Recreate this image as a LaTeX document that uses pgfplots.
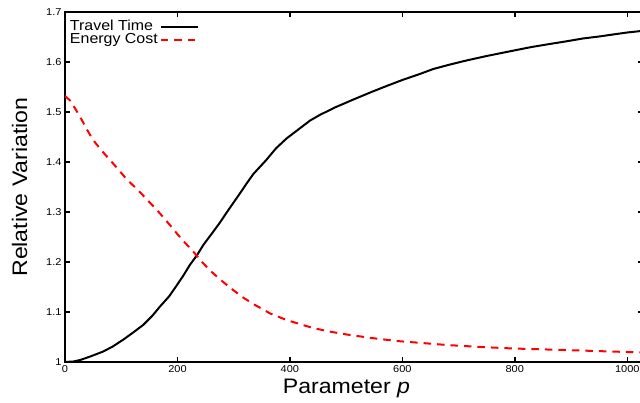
\documentclass[border=0pt]{standalone}
\usepackage{fontspec}
\setmainfont{Liberation Sans}[FakeStretch=1.1]
\usepackage{pgfplots}
\pgfplotsset{compat=1.18}
\usepackage{pgfplotstable}
\pgfplotstableread{
x y
0 1.000
15 1.001
27 1.004
45 1.011
68 1.021
85 1.031
104 1.045
120 1.058
139 1.074
155 1.092
169 1.111
185 1.131
198 1.152
210 1.172
222 1.194
235 1.214
246 1.234
260 1.255
275 1.278
290 1.303
311 1.337
323 1.357
335 1.376
358 1.404
375 1.427
394 1.447
415 1.465
436 1.483
453 1.494
480 1.509
513 1.525
545 1.540
572 1.552
600 1.564
631 1.576
655 1.586
685 1.595
714 1.603
750 1.612
803 1.624
830 1.630
862 1.636
890 1.641
921 1.647
950 1.651
981 1.656
1000 1.659
1025 1.662
}\travel
\pgfplotstableread{
x y
0 1.532
10 1.522
27 1.490
40 1.463
50 1.444
65 1.423
80 1.404
95 1.385
110 1.365
125 1.349
139 1.333
155 1.314
169 1.297
185 1.276
199 1.257
213 1.239
228 1.221
243 1.201
258 1.183
278 1.163
299 1.144
318 1.128
338 1.114
365 1.097
394 1.084
420 1.075
441 1.068
470 1.061
501 1.055
545 1.048
590 1.042
635 1.038
679 1.034
740 1.030
797 1.027
857 1.025
916 1.023
970 1.021
1000 1.020
1025 1.019
}\energy
\begin{document}
\begin{tikzpicture}
\begin{axis}[
  scale only axis,
  width=578pt, height=350pt,
  xmin=0, xmax=1028, ymin=1, ymax=1.7,
  xtick={0,200,400,600,800,1000},
  ytick={1,1.1,1.2,1.3,1.4,1.5,1.6,1.7},
  minor tick num=0,
  tick align=inside,
  tick pos=both,
  major tick length=5pt,
  axis line style={line width=1.8pt},
  every tick/.style={line width=1.5pt, black},
  /pgf/number format/assume math mode=true,
  /pgf/number format/1000 sep={},
  tick label style={font=\fontsize{10}{12}\selectfont},
  xlabel={Parameter \textit{p}},
  ylabel={Relative Variation},
  label style={font=\fontsize{21}{24}\selectfont},
  xlabel style={at={(axis description cs:0.487,-0.0886)}, anchor=base},
  ylabel style={at={(axis description cs:-0.0657,0.5)}, anchor=base},
  legend style={at={(axis description cs:0,1)}, anchor=north west,
    draw=none, fill=none, inner sep=0pt, outer sep=0pt,
    xshift=5pt, yshift=-8pt, row sep=0pt, column sep=2pt,
    font=\fontsize{14.5}{16}\selectfont,
    nodes={inner sep=0pt, text height=10.5pt, text depth=3pt}},
  legend cell align=left,
  legend plot pos=right,
  legend image code/.code={\draw[#1] (2pt,0pt) -- (39pt,0pt);},
]
\addplot[black, line width=2pt] table[x=x,y=y] {\travel};
\addlegendentry{Travel Time}
\addplot[red, line width=2pt, dash pattern=on 7.5pt off 6pt] table[x=x,y=y] {\energy};
\addlegendentry{Energy Cost}
\coordinate (bl) at (rel axis cs:0,0);
\end{axis}
\pgfresetboundingbox
\path ([xshift=-65pt,yshift=-41pt]bl) rectangle ([xshift=575pt,yshift=362pt]bl);
\end{tikzpicture}
\end{document}
